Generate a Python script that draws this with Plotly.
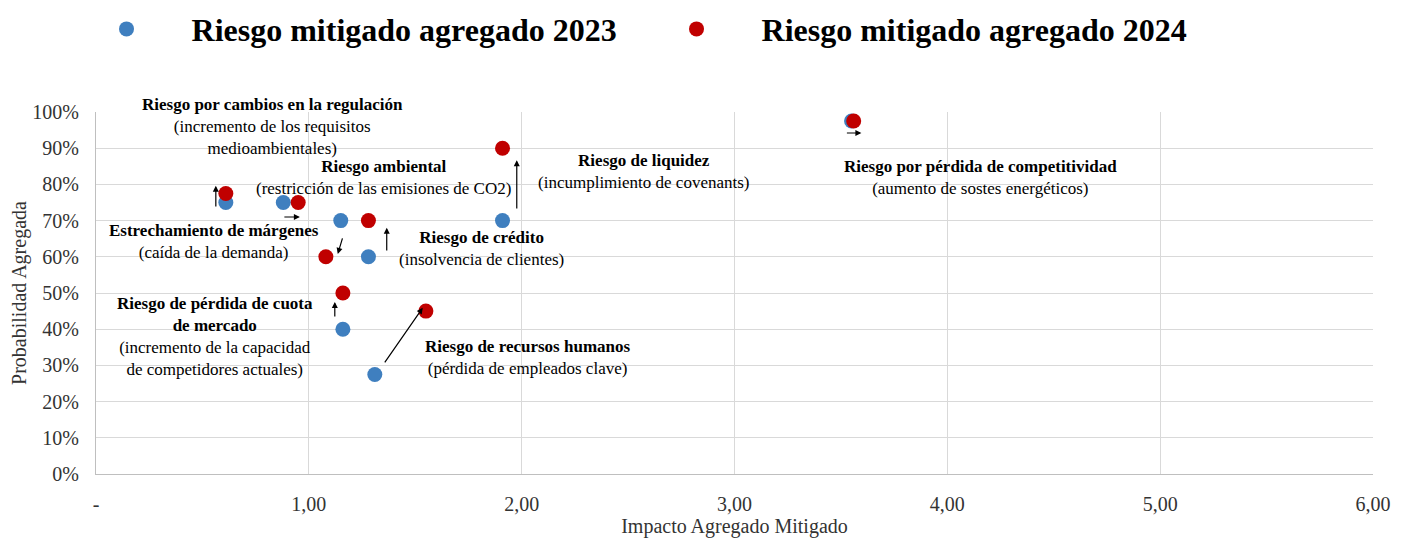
import plotly.graph_objects as go

# ---- data ----
risks = [
    "Riesgo por cambios en la regulación",
    "Estrechamiento de márgenes",
    "Riesgo ambiental",
    "Riesgo de crédito",
    "Riesgo de liquidez",
    "Riesgo de pérdida de cuota de mercado",
    "Riesgo de recursos humanos",
    "Riesgo por pérdida de competitividad",
]
impact_2023 = [0.61, 0.88, 1.15, 1.28, 1.91, 1.16, 1.31, 3.55]
prob_2023 = [0.75, 0.75, 0.70, 0.60, 0.70, 0.40, 0.275, 0.975]
impact_2024 = [0.61, 0.95, 1.08, 1.28, 1.91, 1.16, 1.55, 3.56]
prob_2024 = [0.775, 0.75, 0.60, 0.70, 0.90, 0.50, 0.45, 0.975]

label_titles = [
    "Riesgo por cambios en la regulación",
    "Estrechamiento de márgenes",
    "Riesgo ambiental",
    "Riesgo de crédito",
    "Riesgo de liquidez",
    "Riesgo de pérdida de cuota<br>de mercado",
    "Riesgo de recursos humanos",
    "Riesgo por pérdida de competitividad",
]
label_subs = [
    "(incremento de los requisitos<br>medioambientales)",
    "(caída de la demanda)",
    "(restricción de las emisiones de CO2)",
    "(insolvencia de clientes)",
    "(incumplimiento de covenants)",
    "(incremento de la capacidad<br>de competidores actuales)",
    "(pérdida de empleados clave)",
    "(aumento de sostes energéticos)",
]

x_tickvals = [0, 1, 2, 3, 4, 5, 6]
x_ticktext = ["-", "1,00", "2,00", "3,00", "4,00", "5,00", "6,00"]
y_tickvals = [i / 10 for i in range(11)]
y_ticktext = [f"{i*10}%" for i in range(11)]

# ---- layout positions (annotations) ----
label_x = [0.831, 0.554, 1.352, 1.812, 2.577, 0.559, 2.028, 4.155]
label_y = [0.961, 0.642, 0.820, 0.622, 0.837, 0.381, 0.323, 0.818]
arrow_tail_x = [0.563, 0.878, 1.160, 1.366, 1.977, 1.122, 1.352, 3.521]
arrow_tail_y = [0.735, 0.710, 0.655, 0.613, 0.729, 0.431, 0.304, 0.942]
arrow_head_x = [0.563, 0.958, 1.136, 1.366, 1.977, 1.122, 1.535, 3.596]
arrow_head_y = [0.796, 0.710, 0.608, 0.680, 0.867, 0.475, 0.459, 0.942]

FONT = "Liberation Serif, Times New Roman, serif"
BLUE = "#3F7FBF"
RED = "#C00000"
AXIS_TEXT = "#333333"

fig = go.Figure()
fig.add_trace(go.Scatter(
    x=impact_2023, y=prob_2023, mode="markers", name="Riesgo mitigado agregado 2023",
    text=risks, marker=dict(color=BLUE, size=15),
))
fig.add_trace(go.Scatter(
    x=impact_2024, y=prob_2024, mode="markers", name="Riesgo mitigado agregado 2024",
    text=risks, marker=dict(color=RED, size=15),
))

for t, s, lx, ly in zip(label_titles, label_subs, label_x, label_y):
    fig.add_annotation(
        x=lx, y=ly, xref="x", yref="y", showarrow=False,
        text=f"<b>{t}</b><br>{s}", align="center",
        font=dict(family=FONT, size=17, color="#000000"),
    )

for x0, y0, x1, y1 in zip(arrow_tail_x, arrow_tail_y, arrow_head_x, arrow_head_y):
    fig.add_annotation(
        x=x1, y=y1, ax=x0, ay=y0, xref="x", yref="y", axref="x", ayref="y",
        showarrow=True, arrowhead=2, arrowsize=1, arrowwidth=1.2,
        arrowcolor="#000000", text="", standoff=0, startstandoff=0,
    )

fig.update_layout(
    width=1394, height=532,
    margin=dict(l=88, r=29, t=104, b=66, autoexpand=False),
    paper_bgcolor="white", plot_bgcolor="white",
    font=dict(family=FONT, color="#000000"),
    showlegend=True,
    legend=dict(
        orientation="h", xref="paper", yref="paper",
        x=-0.027, y=1.305, xanchor="left", yanchor="top",
        font=dict(family=FONT, size=32, color="#000000", weight="bold"),
        itemwidth=120,
        entrywidth=435, entrywidthmode="pixels",
        itemsizing="trace",
    ),
    xaxis=dict(
        range=[0, 6], tickvals=x_tickvals, ticktext=x_ticktext,
        showgrid=True, gridcolor="#D9D9D9", gridwidth=1,
        showline=True, linecolor="#BFBFBF", linewidth=1, mirror=False,
        zeroline=False, ticks="", ticklabelstandoff=12, automargin=False,
        tickfont=dict(family=FONT, size=20, color=AXIS_TEXT),
        title=dict(text="Impacto Agregado Mitigado", standoff=0,
                   font=dict(family=FONT, size=20, color=AXIS_TEXT)),
    ),
    yaxis=dict(
        range=[0, 1], tickvals=y_tickvals, ticktext=y_ticktext,
        showgrid=True, gridcolor="#D9D9D9", gridwidth=1,
        showline=True, linecolor="#BFBFBF", linewidth=1,
        zeroline=False, ticks="", ticklabelstandoff=12, automargin=False,
        tickfont=dict(family=FONT, size=20, color=AXIS_TEXT),
        title=dict(text="Probabilidad Agregada", standoff=6,
                   font=dict(family=FONT, size=20, color=AXIS_TEXT)),
    ),
)

fig.write_html("out.html")
